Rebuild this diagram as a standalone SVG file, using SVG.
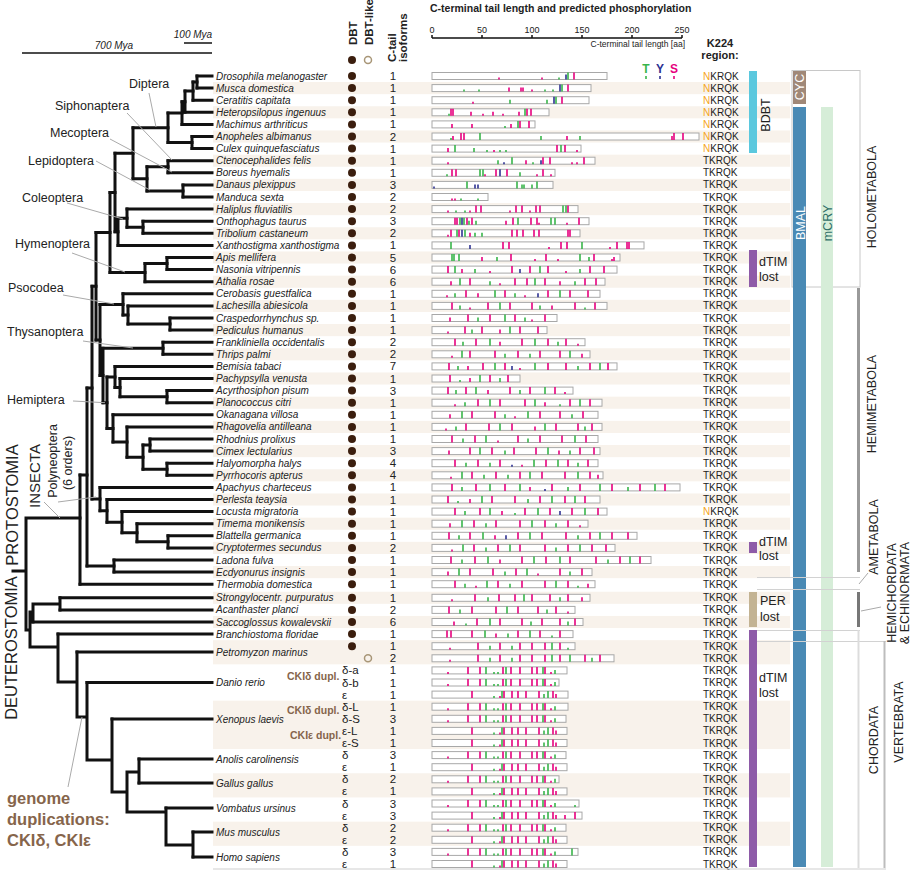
<svg xmlns="http://www.w3.org/2000/svg" width="913" height="872" viewBox="0 0 913 872">
<style>
text{font-family:'Liberation Sans',Arial,sans-serif;fill:#222}
.sp{font-size:10px;font-style:italic}
.n{font-size:11.5px;text-anchor:middle}
.k{font-size:10px}
.o{fill:#f5a623}
.bx{fill:#fff;stroke:#a8a8a8;stroke-width:1}
.s{stroke:#e6007e;stroke-width:1.6;fill:none}
.t{stroke:#39b54a;stroke-width:1.6;fill:none}
.y{stroke:#2e3192;stroke-width:1.6;fill:none}
.d{fill:#3b1e0e}
.st{fill:#f8f2eb}
.lb{font-size:12.5px}
.pt{stroke:#aaa;stroke-width:1;fill:none}
.tr{stroke:#111;stroke-width:3;fill:none;stroke-linecap:square}
.hd{font-size:11.5px;font-weight:bold}
.iso{font-size:11.5px}
.br{fill:#86654b;font-weight:bold}
.rl{font-size:12.5px}
.gl{stroke:#d2d2d2;stroke-width:1;fill:none}
</style>
<defs>
<g id="vA"><path class="s" d="M448 3.5v-2M468 3.5v-7M480 3.5v-7M503 3.5v-7M511 3.5v-7M520 3.5v-7M532 3.5v-7M537 3.5v-7M545 3.5v-7M551 3.5v-2"/><path class="t" d="M486 3.5v-7M494 3.5v-2M498 3.5v-2M506 3.5v-7M543 3.5v-7M555 3.5v-4"/></g>
<g id="vB"><path class="s" d="M472 3.5v-7M500 3.5v-2M504 3.5v-7M512 3.5v-7M518 3.5v-7M526 3.5v-7M539 3.5v-7M553 3.5v-7M556 3.5v-4"/><path class="t" d="M494 3.5v-2M502 3.5v-7M544 3.5v-4M548 3.5v-7"/></g>
</defs>
<rect width="913" height="872" fill="#fff"/>
<g id="stripes">
<rect class="st" x="213" y="82.05" width="577" height="12.1"/><rect class="st" x="213" y="106.25" width="577" height="12.1"/><rect class="st" x="213" y="130.45" width="577" height="12.1"/><rect class="st" x="213" y="154.65" width="577" height="12.1"/><rect class="st" x="213" y="178.85" width="577" height="12.1"/><rect class="st" x="213" y="203.05" width="577" height="12.1"/><rect class="st" x="213" y="227.25" width="577" height="12.1"/><rect class="st" x="213" y="251.45" width="577" height="12.1"/><rect class="st" x="213" y="275.65" width="577" height="12.1"/><rect class="st" x="213" y="299.85" width="577" height="12.1"/><rect class="st" x="213" y="324.05" width="577" height="12.1"/><rect class="st" x="213" y="348.25" width="577" height="12.1"/><rect class="st" x="213" y="372.45" width="577" height="12.1"/><rect class="st" x="213" y="396.65" width="577" height="12.1"/><rect class="st" x="213" y="420.85" width="577" height="12.1"/><rect class="st" x="213" y="445.05" width="577" height="12.1"/><rect class="st" x="213" y="469.25" width="577" height="12.1"/><rect class="st" x="213" y="493.45" width="577" height="12.1"/><rect class="st" x="213" y="517.65" width="577" height="12.1"/><rect class="st" x="213" y="541.85" width="577" height="12.1"/><rect class="st" x="213" y="566.05" width="577" height="12.1"/><rect class="st" x="213" y="591.75" width="577" height="12.1"/><rect class="st" x="213" y="615.95" width="577" height="12.1"/><rect class="st" x="213" y="640.15" width="577" height="24.2"/><rect class="st" x="213" y="700.65" width="577" height="48.4"/><rect class="st" x="213" y="773.25" width="577" height="24.2"/><rect class="st" x="213" y="821.65" width="577" height="24.2"/>
</g>
<g id="header">
<line x1="184" y1="43" x2="212" y2="43" stroke="#111" stroke-width="1.5"/>
<line x1="22" y1="53" x2="212" y2="53" stroke="#111" stroke-width="1.5"/>
<text x="193" y="38" font-size="10" font-style="italic" text-anchor="middle">100 Mya</text>
<text x="114" y="49" font-size="10" font-style="italic" text-anchor="middle">700 Mya</text>
<text class="hd" transform="translate(357,45) rotate(-90)">DBT</text>
<text class="hd" transform="translate(373,45) rotate(-90)">DBT-like</text>
<text class="hd" transform="translate(396,62) rotate(-90)">C-tail</text>
<text class="hd" transform="translate(407,62) rotate(-90)">isoforms</text>
<circle class="d" cx="352" cy="60" r="4"/>
<circle cx="368" cy="60" r="3.5" fill="none" stroke="#a89677" stroke-width="1.5"/>
<text x="430" y="12" font-size="10.5" font-weight="bold">C-terminal tail length and predicted phosphorylation</text>
<path d="M432 38H682M432 38v-3M482 38v-3M532 38v-3M582 38v-3M632 38v-3M682 38v-3" stroke="#111" stroke-width="1.5" fill="none"/>
<g font-size="9" text-anchor="middle"><text x="432" y="33">0</text><text x="482" y="33">50</text><text x="532" y="33">100</text><text x="582" y="33">150</text><text x="632" y="33">200</text><text x="682" y="33">250</text></g>
<text x="685" y="47" font-size="8.5" text-anchor="end">C-terminal tail length [aa]</text>
<text x="720" y="47" font-size="11" font-weight="bold" text-anchor="middle">K224</text>
<text x="720" y="59" font-size="11" font-weight="bold" text-anchor="middle">region:</text>
<g font-size="12" font-weight="bold" text-anchor="middle"><text x="646" y="73" style="fill:#39b54a">T</text><text x="660" y="73" style="fill:#2e3192">Y</text><text x="674" y="73" style="fill:#e6007e">S</text></g>
<path class="t" d="M646 79v-3"/><path class="y" d="M660 79v-3"/><path class="s" d="M674 79v-3"/>
</g>
<g id="connectors">
<path class="tr" d="M197 76H212M197 88.1H212M193 100.2H212M185 112.3H212M182 124.4H212M192 136.5H212M192 148.6H212M168 160.7H212M168 172.8H212M183 184.9H212M183 197H212M127 209.1H212M143 221.2H212M143 233.3H212M118 245.4H212M167 257.5H212M167 269.6H212M145 281.7H212M123 293.8H212M128 305.9H212M170 318H212M170 330.1H212M163 342.2H212M163 354.3H212M115 366.4H212M120 378.5H212M167 390.6H212M167 402.7H212M113 414.8H212M127 426.9H212M150 439H212M150 451.1H212M167 463.2H212M167 475.3H212M100 487.4H212M107 499.5H212M122 511.6H212M137 523.7H212M168 535.8H212M168 547.9H212M114 560H212M114 572.1H212M80 584.2H212M60 597.8H212M60 609.9H212M33 622H212M58 634.1H212M77 652H212M87 682.5H212M112 719H212M139 759H212M139 783H212M166 808H212M193 832H212M193 857H212"/>
<path class="tr" d="M197 76V88.1M193 82.05V100.2M185 91.1V112.3M182 101.7V124.4M192 136.5V148.6M168 113V142.55M168 160.7V172.8M183 184.9V197M147 166.75V190.95M133 127.8V178.85M143 221.2V233.3M127 209.1V227.25M118 218.2V245.4M115 153.3V231.8M167 257.5V269.6M145 263.55V281.7M110 192.55V272.6M170 318V330.1M128 305.9V324.05M123 293.8V315M163 342.2V354.3M167 390.6V402.7M120 378.5V396.65M115 366.4V387.6M150 439V451.1M167 463.2V475.3M143 445.05V469.25M127 426.9V457.15M113 414.8V442M107 377V428.4M103 348.25V402.7M100 304.4V375.5M96 232.6V340M168 535.8V547.9M137 523.7V541.85M122 511.6V532.8M107 499.5V522.2M100 487.4V510.85M92 286.3V499.1M114 560V572.1M87 388V566.05M80 475V584.2"/>
<path class="tr" d="M193 82.05H197M185 91.1H193M182 101.7H185M168 113H182M168 142.55H192M147 166.75H168M147 190.95H183M133 127.8H168M133 178.85H147M127 227.25H143M118 218.2H127M115 153.3H133M115 231.8H118M145 263.55H167M110 192.55H115M110 272.6H145M128 324.05H170M123 315H128M115 387.6H120M120 396.65H167M143 445.05H150M143 469.25H167M127 457.15H143M113 442H127M107 377H115M107 428.4H113M103 348.25H163M103 402.7H107M100 304.4H123M100 375.5H103M96 232.6H110M96 340H100M137 541.85H168M122 532.8H137M107 522.2H122M100 510.85H107M92 286.3H96M92 499.1H100M87 388H92M87 566.05H114M80 475H87"/>
<path class="tr" d="M60 597.8V609.9M33 604V622M33 604H60M193 832V857M166 808V845M166 845H193M139 759V783M127 772V812M127 772H139M127 812H166M112 719V792M112 792H127M87 682.5V760M87 760H112M77 652V717M77 717H87M58 634.1V682M58 682H77M30 612V647M30 612H33M30 647H58M26 518V630M26 518H80M26 630H30M13 571H26"/>
<path class="pt" d="M149 93L156 127M127 113L172 160M110 139L172 172M96 161L150 190M67 203L123 219M72 253L125 272M63 295L114 304M83 341L133 348M73 401L105 402.7M44 502L60 518M58 502L96 497M68 787L82 717"/>
</g>
<g id="clade-labels">
<text class="lb" x="129" y="88">Diptera</text>
<text class="lb" x="55" y="109.5">Siphonaptera</text>
<text class="lb" x="50" y="136.5">Mecoptera</text>
<text class="lb" x="28" y="164.5">Lepidoptera</text>
<text class="lb" x="22" y="201.5">Coleoptera</text>
<text class="lb" x="15" y="248">Hymenoptera</text>
<text class="lb" x="8" y="292">Psocodea</text>
<text class="lb" x="7" y="336">Thysanoptera</text>
<text class="lb" x="7" y="404">Hemiptera</text>
<text font-size="16.5" transform="translate(18,505) rotate(-90)" text-anchor="middle">PROTOSTOMIA</text>
<text font-size="16.5" transform="translate(17,648) rotate(-90)" text-anchor="middle">DEUTEROSTOMIA</text>
<text font-size="15" transform="translate(40,476) rotate(-90)" text-anchor="middle">INSECTA</text>
<text font-size="12.5" transform="translate(57,461) rotate(-90)" text-anchor="middle">Polyneoptera</text>
<text font-size="12.5" transform="translate(72,463) rotate(-90)" text-anchor="middle">(6 orders)</text>
<g class="br" font-size="16.5"><text class="br" x="7" y="804">genome</text><text class="br" x="7" y="825">duplications:</text><text class="br" x="7" y="846">CKIδ, CKIε</text></g>
</g>
<g id="rows">
<g id="r-Drosophila" transform="translate(0,76)"><text class="sp" x="216" y="3.5">Drosophila melanogaster</text><circle class="d" cx="352" cy="0" r="4"/><text class="n" x="393" y="4">1</text><rect class="bx" x="432" y="-3.5" width="175" height="7"/><path class="s" d="M499 3.5v-2M542 3.5v-2M574 3.5v-7"/><path class="t" d="M559 3.5v-2M568 3.5v-7"/><path class="y" d="M566 3.5v-5"/><text class="k" x="703" y="3.5"><tspan class="o">N</tspan>KRQK</text></g>
<g id="r-Musca" transform="translate(0,88.1)"><text class="sp" x="216" y="3.5">Musca domestica</text><circle class="d" cx="352" cy="0" r="4"/><text class="n" x="393" y="4">1</text><rect class="bx" x="432" y="-3.5" width="159" height="7"/><path class="s" d="M509 3.5v-4M521 3.5v-4M523 3.5v-4M532 3.5v-2M568 3.5v-7"/><path class="t" d="M464 3.5v-2M479 3.5v-2M545 3.5v-2M553 3.5v-2M562 3.5v-7"/><path class="y" d="M560 3.5v-7"/><text class="k" x="703" y="3.5"><tspan class="o">N</tspan>KRQK</text></g>
<g id="r-Ceratitis" transform="translate(0,100.2)"><text class="sp" x="216" y="3.5">Ceratitis capitata</text><circle class="d" cx="352" cy="0" r="4"/><text class="n" x="393" y="4">1</text><rect class="bx" x="432" y="-3.5" width="157" height="7"/><path class="s" d="M473 3.5v-2M562 3.5v-7"/><path class="t" d="M510 3.5v-4M547 3.5v-4M556 3.5v-7"/><path class="y" d="M554 3.5v-7"/><text class="k" x="703" y="3.5"><tspan class="o">N</tspan>KRQK</text></g>
<g id="r-Heteropsilopus" transform="translate(0,112.3)"><text class="sp" x="216" y="3.5">Heteropsilopus ingenuus</text><circle class="d" cx="352" cy="0" r="4"/><text class="n" x="393" y="4">1</text><rect class="bx" x="432" y="-3.5" width="117" height="7"/><path class="s" d="M451 3.5v-7M453 3.5v-7M471 3.5v-4M483 3.5v-2M493 3.5v-4M503 3.5v-2M519 3.5v-4M527 3.5v-7M531 3.5v-7"/><path class="t" d="M449 3.5v-2M525 3.5v-7"/><text class="k" x="703" y="3.5"><tspan class="o">N</tspan>KRQK</text></g>
<g id="r-Machimus" transform="translate(0,124.4)"><text class="sp" x="216" y="3.5">Machimus arthriticus</text><circle class="d" cx="352" cy="0" r="4"/><text class="n" x="393" y="4">1</text><rect class="bx" x="432" y="-3.5" width="103" height="7"/><path class="s" d="M452 3.5v-4M472 3.5v-4M511 3.5v-4M520 3.5v-7M529 3.5v-7"/><path class="t" d="M505 3.5v-2M518 3.5v-7"/><text class="k" x="703" y="3.5"><tspan class="o">N</tspan>KRQK</text></g>
<g id="r-Anopheles" transform="translate(0,136.5)"><text class="sp" x="216" y="3.5">Anopheles albimanus</text><circle class="d" cx="352" cy="0" r="4"/><text class="n" x="393" y="4">2</text><rect class="bx" x="432" y="-3.5" width="267" height="7"/><path class="s" d="M453 3.5v-4M461 3.5v-7M464 3.5v-7M567 3.5v-4M672 3.5v-4M674 3.5v-7M683 3.5v-7"/><path class="t" d="M451 3.5v-2M480 3.5v-7M541 3.5v-4M580 3.5v-4"/><text class="k" x="703" y="3.5"><tspan class="o">N</tspan>KRQK</text></g>
<g id="r-Culex" transform="translate(0,148.6)"><text class="sp" x="216" y="3.5">Culex quinquefasciatus</text><circle class="d" cx="352" cy="0" r="4"/><text class="n" x="393" y="4">1</text><rect class="bx" x="432" y="-3.5" width="149" height="7"/><path class="s" d="M448 3.5v-4M494 3.5v-2M557 3.5v-7M565 3.5v-7M577 3.5v-2"/><path class="t" d="M455 3.5v-7M474 3.5v-4M487 3.5v-2M500 3.5v-2M506 3.5v-2M561 3.5v-7"/><text class="k" x="703" y="3.5"><tspan class="o">N</tspan>KRQK</text></g>
<g id="r-Ctenocephalides" transform="translate(0,160.7)"><text class="sp" x="216" y="3.5">Ctenocephalides felis</text><circle class="d" cx="352" cy="0" r="4"/><text class="n" x="393" y="4">1</text><rect class="bx" x="432" y="-3.5" width="163" height="7"/><path class="s" d="M448 3.5v-2M526 3.5v-4M543 3.5v-7M550 3.5v-7M572 3.5v-2M577 3.5v-2M584 3.5v-7"/><path class="t" d="M498 3.5v-4M512 3.5v-7M533 3.5v-2"/><path class="y" d="M504 3.5v-2M541 3.5v-4"/><text class="k" x="703" y="3.5">TKRQK</text></g>
<g id="r-Boreus" transform="translate(0,172.8)"><text class="sp" x="216" y="3.5">Boreus hyemalis</text><circle class="d" cx="352" cy="0" r="4"/><text class="n" x="393" y="4">1</text><rect class="bx" x="432" y="-3.5" width="123" height="7"/><path class="s" d="M452 3.5v-7M456 3.5v-7M485 3.5v-2M496 3.5v-7M507 3.5v-7M537 3.5v-2M543 3.5v-7M551 3.5v-2"/><path class="t" d="M447 3.5v-2M480 3.5v-7M483 3.5v-7M520 3.5v-4"/><path class="y" d="M500 3.5v-7"/><text class="k" x="703" y="3.5">TKRQK</text></g>
<g id="r-Danaus" transform="translate(0,184.9)"><text class="sp" x="216" y="3.5">Danaus plexippus</text><circle class="d" cx="352" cy="0" r="4"/><text class="n" x="393" y="4">3</text><rect class="bx" x="432" y="-3.5" width="121" height="7"/><path class="t" d="M467 3.5v-7M517 3.5v-7M522 3.5v-4M524 3.5v-4M532 3.5v-4M537 3.5v-7"/><path class="y" d="M434 3.5v-2M475 3.5v-4M478 3.5v-4"/><text class="k" x="703" y="3.5">TKRQK</text></g>
<g id="r-Manduca" transform="translate(0,197)"><text class="sp" x="216" y="3.5">Manduca sexta</text><circle class="d" cx="352" cy="0" r="4"/><text class="n" x="393" y="4">2</text><rect class="bx" x="432" y="-3.5" width="56" height="7"/><path class="s" d="M452 3.5v-2M455 3.5v-2"/><path class="t" d="M461 3.5v-2M478 3.5v-2"/><text class="k" x="703" y="3.5">TKRQK</text></g>
<g id="r-Haliplus" transform="translate(0,209.1)"><text class="sp" x="216" y="3.5">Haliplus fluviatilis</text><circle class="d" cx="352" cy="0" r="4"/><text class="n" x="393" y="4">2</text><rect class="bx" x="432" y="-3.5" width="146" height="7"/><path class="s" d="M448 3.5v-2M470 3.5v-2M476 3.5v-7M481 3.5v-7M510 3.5v-2M516 3.5v-7M522 3.5v-7M530 3.5v-2M536 3.5v-7M540 3.5v-7M568 3.5v-7"/><path class="t" d="M456 3.5v-2M465 3.5v-2M563 3.5v-7M566 3.5v-7"/><text class="k" x="703" y="3.5">TKRQK</text></g>
<g id="r-Onthophagus" transform="translate(0,221.2)"><text class="sp" x="216" y="3.5">Onthophagus taurus</text><circle class="d" cx="352" cy="0" r="4"/><text class="n" x="393" y="4">3</text><rect class="bx" x="432" y="-3.5" width="157" height="7"/><path class="s" d="M455 3.5v-7M457 3.5v-7M467 3.5v-7M472 3.5v-7M506 3.5v-4M513 3.5v-7M531 3.5v-7M537 3.5v-7M539 3.5v-2M567 3.5v-2M579 3.5v-7"/><path class="t" d="M460 3.5v-7M464 3.5v-7M469 3.5v-4M476 3.5v-4M518 3.5v-7M551 3.5v-7M555 3.5v-7"/><path class="y" d="M462 3.5v-7"/><text class="k" x="703" y="3.5">TKRQK</text></g>
<g id="r-Tribolium" transform="translate(0,233.3)"><text class="sp" x="216" y="3.5">Tribolium castaneum</text><circle class="d" cx="352" cy="0" r="4"/><text class="n" x="393" y="4">2</text><rect class="bx" x="432" y="-3.5" width="148" height="7"/><path class="s" d="M448 3.5v-2M451 3.5v-7M459 3.5v-7M470 3.5v-4M512 3.5v-7M517 3.5v-7M523 3.5v-7M534 3.5v-7M539 3.5v-7M568 3.5v-7M570 3.5v-7"/><path class="t" d="M457 3.5v-7M465 3.5v-7M475 3.5v-4M482 3.5v-4"/><path class="y" d="M462 3.5v-7"/><text class="k" x="703" y="3.5">TKRQK</text></g>
<g id="r-Xanthostigma" transform="translate(0,245.4)"><text class="sp" x="216" y="3.5">Xanthostigma xanthostigma</text><circle class="d" cx="352" cy="0" r="4"/><text class="n" x="393" y="4">1</text><rect class="bx" x="432" y="-3.5" width="212" height="7"/><path class="s" d="M503 3.5v-7M509 3.5v-7M549 3.5v-2M561 3.5v-7M567 3.5v-7M610 3.5v-2M617 3.5v-7M627 3.5v-7M629 3.5v-7"/><path class="t" d="M451 3.5v-7M582 3.5v-7"/><path class="y" d="M470 3.5v-4"/><text class="k" x="703" y="3.5">TKRQK</text></g>
<g id="r-Apis" transform="translate(0,257.5)"><text class="sp" x="216" y="3.5">Apis mellifera</text><circle class="d" cx="352" cy="0" r="4"/><text class="n" x="393" y="4">5</text><rect class="bx" x="432" y="-3.5" width="188" height="7"/><path class="s" d="M482 3.5v-4M511 3.5v-7M535 3.5v-2M546 3.5v-7M558 3.5v-2M594 3.5v-7M612 3.5v-2M614 3.5v-4"/><path class="t" d="M452 3.5v-7M454 3.5v-7M459 3.5v-7M497 3.5v-4M580 3.5v-7M589 3.5v-4"/><text class="k" x="703" y="3.5">TKRQK</text></g>
<g id="r-Nasonia" transform="translate(0,269.6)"><text class="sp" x="216" y="3.5">Nasonia vitripennis</text><circle class="d" cx="352" cy="0" r="4"/><text class="n" x="393" y="4">6</text><rect class="bx" x="432" y="-3.5" width="185" height="7"/><path class="s" d="M448 3.5v-7M462 3.5v-4M490 3.5v-2M512 3.5v-7M530 3.5v-7M548 3.5v-7M566 3.5v-2M590 3.5v-7M604 3.5v-7"/><path class="t" d="M455 3.5v-7M475 3.5v-4M540 3.5v-7M580 3.5v-4"/><path class="y" d="M520 3.5v-4"/><text class="k" x="703" y="3.5">TKRQK</text></g>
<g id="r-Athalia" transform="translate(0,281.7)"><text class="sp" x="216" y="3.5">Athalia rosae</text><circle class="d" cx="352" cy="0" r="4"/><text class="n" x="393" y="4">6</text><rect class="bx" x="432" y="-3.5" width="173" height="7"/><path class="s" d="M451 3.5v-4M470 3.5v-7M500 3.5v-2M515 3.5v-7M527 3.5v-7M545 3.5v-7M560 3.5v-4M585 3.5v-7M596 3.5v-7"/><path class="t" d="M460 3.5v-7M490 3.5v-4M535 3.5v-7M575 3.5v-4"/><text class="k" x="703" y="3.5">TKRQK</text></g>
<g id="r-Cerobasis" transform="translate(0,293.8)"><text class="sp" x="216" y="3.5">Cerobasis guestfalica</text><circle class="d" cx="352" cy="0" r="4"/><text class="n" x="393" y="4">1</text><rect class="bx" x="432" y="-3.5" width="168" height="7"/><path class="s" d="M447 3.5v-2M466 3.5v-7M478 3.5v-4M505 3.5v-7M525 3.5v-2M548 3.5v-7M570 3.5v-7M588 3.5v-7"/><path class="t" d="M455 3.5v-4M495 3.5v-7M515 3.5v-4M560 3.5v-7"/><path class="y" d="M538 3.5v-4"/><text class="k" x="703" y="3.5">TKRQK</text></g>
<g id="r-Lachesilla" transform="translate(0,305.9)"><text class="sp" x="216" y="3.5">Lachesilla abiesicola</text><circle class="d" cx="352" cy="0" r="4"/><text class="n" x="393" y="4">1</text><rect class="bx" x="432" y="-3.5" width="175" height="7"/><path class="s" d="M452 3.5v-7M470 3.5v-2M488 3.5v-7M510 3.5v-7M532 3.5v-7M552 3.5v-4M575 3.5v-7M595 3.5v-7"/><path class="t" d="M460 3.5v-4M500 3.5v-7M540 3.5v-4M585 3.5v-2"/><text class="k" x="703" y="3.5">TKRQK</text></g>
<g id="r-Craspedorrhynchus" transform="translate(0,318)"><text class="sp" x="216" y="3.5">Craspedorrhynchus sp.</text><circle class="d" cx="352" cy="0" r="4"/><text class="n" x="393" y="4">1</text><rect class="bx" x="432" y="-3.5" width="125" height="7"/><path class="s" d="M450 3.5v-4M468 3.5v-7M490 3.5v-7M515 3.5v-7M532 3.5v-2M545 3.5v-7"/><path class="t" d="M478 3.5v-4M505 3.5v-7M525 3.5v-4"/><text class="k" x="703" y="3.5">TKRQK</text></g>
<g id="r-Pediculus" transform="translate(0,330.1)"><text class="sp" x="216" y="3.5">Pediculus humanus</text><circle class="d" cx="352" cy="0" r="4"/><text class="n" x="393" y="4">1</text><rect class="bx" x="432" y="-3.5" width="115" height="7"/><path class="s" d="M448 3.5v-2M465 3.5v-7M482 3.5v-7M500 3.5v-4M520 3.5v-7M538 3.5v-7"/><path class="t" d="M472 3.5v-4M510 3.5v-7"/><text class="k" x="703" y="3.5">TKRQK</text></g>
<g id="r-Frankliniella" transform="translate(0,342.2)"><text class="sp" x="216" y="3.5">Frankliniella occidentalis</text><circle class="d" cx="352" cy="0" r="4"/><text class="n" x="393" y="4">2</text><rect class="bx" x="432" y="-3.5" width="153" height="7"/><path class="s" d="M455 3.5v-7M476 3.5v-7M500 3.5v-4M522 3.5v-7M548 3.5v-7M566 3.5v-7M578 3.5v-2"/><path class="t" d="M463 3.5v-4M490 3.5v-7M535 3.5v-7M558 3.5v-4"/><text class="k" x="703" y="3.5">TKRQK</text></g>
<g id="r-Thrips" transform="translate(0,354.3)"><text class="sp" x="216" y="3.5">Thrips palmi</text><circle class="d" cx="352" cy="0" r="4"/><text class="n" x="393" y="4">2</text><rect class="bx" x="432" y="-3.5" width="158" height="7"/><path class="s" d="M452 3.5v-2M470 3.5v-7M495 3.5v-7M518 3.5v-7M540 3.5v-7M560 3.5v-7M582 3.5v-4"/><path class="t" d="M462 3.5v-7M505 3.5v-4M530 3.5v-4M570 3.5v-7"/><text class="k" x="703" y="3.5">TKRQK</text></g>
<g id="r-Bemisia" transform="translate(0,366.4)"><text class="sp" x="216" y="3.5">Bemisia tabaci</text><circle class="d" cx="352" cy="0" r="4"/><text class="n" x="393" y="4">7</text><rect class="bx" x="432" y="-3.5" width="185" height="7"/><path class="s" d="M449 3.5v-7M468 3.5v-4M483 3.5v-7M505 3.5v-7M520 3.5v-2M548 3.5v-7M566 3.5v-7M590 3.5v-7M608 3.5v-7"/><path class="t" d="M458 3.5v-4M495 3.5v-7M535 3.5v-7M578 3.5v-4M600 3.5v-7"/><path class="y" d="M512 3.5v-4"/><text class="k" x="703" y="3.5">TKRQK</text></g>
<g id="r-Pachypsylla" transform="translate(0,378.5)"><text class="sp" x="216" y="3.5">Pachypsylla venusta</text><circle class="d" cx="352" cy="0" r="4"/><text class="n" x="393" y="4">1</text><rect class="bx" x="432" y="-3.5" width="88" height="7"/><path class="s" d="M450 3.5v-7M470 3.5v-4M490 3.5v-7M508 3.5v-7"/><path class="t" d="M460 3.5v-2M480 3.5v-7M500 3.5v-4"/><text class="k" x="703" y="3.5">TKRQK</text></g>
<g id="r-Acyrthosiphon" transform="translate(0,390.6)"><text class="sp" x="216" y="3.5">Acyrthosiphon pisum</text><circle class="d" cx="352" cy="0" r="4"/><text class="n" x="393" y="4">3</text><rect class="bx" x="432" y="-3.5" width="141" height="7"/><path class="s" d="M448 3.5v-7M466 3.5v-7M488 3.5v-4M510 3.5v-7M530 3.5v-7M555 3.5v-7M565 3.5v-2"/><path class="t" d="M456 3.5v-4M476 3.5v-7M520 3.5v-4M545 3.5v-7"/><text class="k" x="703" y="3.5">TKRQK</text></g>
<g id="r-Planococcus" transform="translate(0,402.7)"><text class="sp" x="216" y="3.5">Planococcus citri</text><circle class="d" cx="352" cy="0" r="4"/><text class="n" x="393" y="4">1</text><rect class="bx" x="432" y="-3.5" width="170" height="7"/><path class="s" d="M455 3.5v-2M478 3.5v-7M500 3.5v-7M525 3.5v-7M545 3.5v-4M570 3.5v-7M590 3.5v-7"/><path class="t" d="M465 3.5v-4M490 3.5v-7M535 3.5v-7M560 3.5v-2M580 3.5v-7"/><text class="k" x="703" y="3.5">TKRQK</text></g>
<g id="r-Okanagana" transform="translate(0,414.8)"><text class="sp" x="216" y="3.5">Okanagana villosa</text><circle class="d" cx="352" cy="0" r="4"/><text class="n" x="393" y="4">1</text><rect class="bx" x="432" y="-3.5" width="166" height="7"/><path class="s" d="M450 3.5v-4M472 3.5v-7M495 3.5v-7M515 3.5v-2M540 3.5v-7M560 3.5v-7M583 3.5v-7"/><path class="t" d="M462 3.5v-7M505 3.5v-4M528 3.5v-7M572 3.5v-4"/><text class="k" x="703" y="3.5">TKRQK</text></g>
<g id="r-Rhagovelia" transform="translate(0,426.9)"><text class="sp" x="216" y="3.5">Rhagovelia antilleana</text><circle class="d" cx="352" cy="0" r="4"/><text class="n" x="393" y="4">1</text><rect class="bx" x="432" y="-3.5" width="170" height="7"/><path class="s" d="M446 3.5v-2M466 3.5v-7M489 3.5v-7M512 3.5v-7M535 3.5v-4M556 3.5v-7M578 3.5v-7M592 3.5v-7"/><path class="t" d="M456 3.5v-4M500 3.5v-7M545 3.5v-7M585 3.5v-4"/><text class="k" x="703" y="3.5">TKRQK</text></g>
<g id="r-Rhodnius" transform="translate(0,439)"><text class="sp" x="216" y="3.5">Rhodnius prolixus</text><circle class="d" cx="352" cy="0" r="4"/><text class="n" x="393" y="4">1</text><rect class="bx" x="432" y="-3.5" width="166" height="7"/><path class="s" d="M452 3.5v-7M475 3.5v-7M498 3.5v-2M518 3.5v-7M540 3.5v-7M562 3.5v-7M586 3.5v-7"/><path class="t" d="M463 3.5v-4M486 3.5v-7M528 3.5v-4M575 3.5v-7"/><text class="k" x="703" y="3.5">TKRQK</text></g>
<g id="r-Cimex" transform="translate(0,451.1)"><text class="sp" x="216" y="3.5">Cimex lectularius</text><circle class="d" cx="352" cy="0" r="4"/><text class="n" x="393" y="4">3</text><rect class="bx" x="432" y="-3.5" width="168" height="7"/><path class="s" d="M449 3.5v-4M470 3.5v-7M492 3.5v-7M514 3.5v-7M536 3.5v-7M559 3.5v-4M580 3.5v-7M594 3.5v-7"/><path class="t" d="M480 3.5v-7M505 3.5v-4M548 3.5v-7M570 3.5v-4"/><text class="k" x="703" y="3.5">TKRQK</text></g>
<g id="r-Halyomorpha" transform="translate(0,463.2)"><text class="sp" x="216" y="3.5">Halyomorpha halys</text><circle class="d" cx="352" cy="0" r="4"/><text class="n" x="393" y="4">4</text><rect class="bx" x="432" y="-3.5" width="166" height="7"/><path class="s" d="M455 3.5v-7M478 3.5v-7M500 3.5v-7M522 3.5v-2M546 3.5v-7M568 3.5v-7M588 3.5v-7"/><path class="t" d="M466 3.5v-4M490 3.5v-4M534 3.5v-7M558 3.5v-7M578 3.5v-4"/><path class="y" d="M512 3.5v-2"/><text class="k" x="703" y="3.5">TKRQK</text></g>
<g id="r-Pyrrhocoris" transform="translate(0,475.3)"><text class="sp" x="216" y="3.5">Pyrrhocoris apterus</text><circle class="d" cx="352" cy="0" r="4"/><text class="n" x="393" y="4">4</text><rect class="bx" x="432" y="-3.5" width="171" height="7"/><path class="s" d="M451 3.5v-2M472 3.5v-7M496 3.5v-7M520 3.5v-7M542 3.5v-7M565 3.5v-7M590 3.5v-7M598 3.5v-4"/><path class="t" d="M462 3.5v-7M484 3.5v-4M508 3.5v-4M530 3.5v-7M578 3.5v-7"/><text class="k" x="703" y="3.5">TKRQK</text></g>
<g id="r-Apachyus" transform="translate(0,487.4)"><text class="sp" x="216" y="3.5">Apachyus charteceus</text><circle class="d" cx="352" cy="0" r="4"/><text class="n" x="393" y="4">1</text><rect class="bx" x="432" y="-3.5" width="248" height="7"/><path class="s" d="M452 3.5v-7M476 3.5v-7M505 3.5v-7M530 3.5v-4M552 3.5v-7M580 3.5v-7M612 3.5v-7M640 3.5v-7M665 3.5v-7"/><path class="t" d="M462 3.5v-4M490 3.5v-7M520 3.5v-7M568 3.5v-4M600 3.5v-7M628 3.5v-4M655 3.5v-7"/><path class="y" d="M545 3.5v-2"/><text class="k" x="703" y="3.5">TKRQK</text></g>
<g id="r-Perlesta" transform="translate(0,499.5)"><text class="sp" x="216" y="3.5">Perlesta teaysia</text><circle class="d" cx="352" cy="0" r="4"/><text class="n" x="393" y="4">1</text><rect class="bx" x="432" y="-3.5" width="168" height="7"/><path class="s" d="M448 3.5v-7M470 3.5v-4M492 3.5v-7M515 3.5v-7M540 3.5v-7M565 3.5v-7M585 3.5v-7"/><path class="t" d="M458 3.5v-2M482 3.5v-7M528 3.5v-4M552 3.5v-7M575 3.5v-7"/><text class="k" x="703" y="3.5">TKRQK</text></g>
<g id="r-Locusta" transform="translate(0,511.6)"><text class="sp" x="216" y="3.5">Locusta migratoria</text><circle class="d" cx="352" cy="0" r="4"/><text class="n" x="393" y="4">1</text><rect class="bx" x="432" y="-3.5" width="175" height="7"/><path class="s" d="M455 3.5v-7M480 3.5v-7M502 3.5v-4M525 3.5v-7M550 3.5v-7M572 3.5v-7M598 3.5v-7"/><path class="t" d="M465 3.5v-4M490 3.5v-7M515 3.5v-2M538 3.5v-7M585 3.5v-7"/><path class="y" d="M560 3.5v-4"/><text class="k" x="703" y="3.5"><tspan class="o">N</tspan>KRQK</text></g>
<g id="r-Timema" transform="translate(0,523.7)"><text class="sp" x="216" y="3.5">Timema monikensis</text><circle class="d" cx="352" cy="0" r="4"/><text class="n" x="393" y="4">1</text><rect class="bx" x="432" y="-3.5" width="156" height="7"/><path class="s" d="M450 3.5v-4M474 3.5v-7M496 3.5v-7M520 3.5v-7M545 3.5v-7M568 3.5v-7M580 3.5v-2"/><path class="t" d="M462 3.5v-7M486 3.5v-4M532 3.5v-7M556 3.5v-4"/><text class="k" x="703" y="3.5">TKRQK</text></g>
<g id="r-Blattella" transform="translate(0,535.8)"><text class="sp" x="216" y="3.5">Blattella germanica</text><circle class="d" cx="352" cy="0" r="4"/><text class="n" x="393" y="4">1</text><rect class="bx" x="432" y="-3.5" width="205" height="7"/><path class="s" d="M449 3.5v-7M470 3.5v-7M495 3.5v-4M518 3.5v-7M542 3.5v-7M566 3.5v-7M590 3.5v-7M612 3.5v-7M628 3.5v-7"/><path class="t" d="M459 3.5v-4M483 3.5v-7M530 3.5v-7M578 3.5v-4M600 3.5v-7"/><path class="y" d="M506 3.5v-4"/><text class="k" x="703" y="3.5">TKRQK</text></g>
<g id="r-Cryptotermes" transform="translate(0,547.9)"><text class="sp" x="216" y="3.5">Cryptotermes secundus</text><circle class="d" cx="352" cy="0" r="4"/><text class="n" x="393" y="4">2</text><rect class="bx" x="432" y="-3.5" width="183" height="7"/><path class="s" d="M452 3.5v-2M474 3.5v-7M498 3.5v-7M520 3.5v-7M545 3.5v-7M568 3.5v-7M592 3.5v-7M606 3.5v-7"/><path class="t" d="M463 3.5v-7M486 3.5v-4M510 3.5v-7M556 3.5v-4M580 3.5v-7"/><text class="k" x="703" y="3.5">TKRQK</text></g>
<g id="r-Ladona" transform="translate(0,560)"><text class="sp" x="216" y="3.5">Ladona fulva</text><circle class="d" cx="352" cy="0" r="4"/><text class="n" x="393" y="4">1</text><rect class="bx" x="432" y="-3.5" width="219" height="7"/><path class="s" d="M451 3.5v-7M475 3.5v-7M500 3.5v-4M522 3.5v-7M546 3.5v-7M570 3.5v-7M596 3.5v-7M620 3.5v-7M640 3.5v-7"/><path class="t" d="M462 3.5v-4M488 3.5v-7M534 3.5v-7M560 3.5v-7M608 3.5v-4M630 3.5v-7"/><text class="k" x="703" y="3.5">TKRQK</text></g>
<g id="r-Ecdyonurus" transform="translate(0,572.1)"><text class="sp" x="216" y="3.5">Ecdyonurus insignis</text><circle class="d" cx="352" cy="0" r="4"/><text class="n" x="393" y="4">1</text><rect class="bx" x="432" y="-3.5" width="160" height="7"/><path class="s" d="M448 3.5v-4M470 3.5v-7M493 3.5v-7M516 3.5v-7M538 3.5v-2M560 3.5v-7M582 3.5v-7"/><path class="t" d="M459 3.5v-7M505 3.5v-4M527 3.5v-7M570 3.5v-4"/><text class="k" x="703" y="3.5">TKRQK</text></g>
<g id="r-Thermobia" transform="translate(0,584.2)"><text class="sp" x="216" y="3.5">Thermobia domestica</text><circle class="d" cx="352" cy="0" r="4"/><text class="n" x="393" y="4">1</text><rect class="bx" x="432" y="-3.5" width="163" height="7"/><path class="s" d="M455 3.5v-7M476 3.5v-2M498 3.5v-7M522 3.5v-7M545 3.5v-7M568 3.5v-7M588 3.5v-4"/><path class="t" d="M465 3.5v-4M487 3.5v-7M510 3.5v-4M556 3.5v-7M578 3.5v-2"/><text class="k" x="703" y="3.5">TKRQK</text></g>
<g id="r-Strongylocentrotus" transform="translate(0,597.8)"><text class="sp" x="216" y="3.5">Strongylocentr. purpuratus</text><circle class="d" cx="352" cy="0" r="4"/><text class="n" x="393" y="4">1</text><rect class="bx" x="432" y="-3.5" width="158" height="7"/><path class="s" d="M452 3.5v-2M475 3.5v-7M499 3.5v-7M515 3.5v-7M532 3.5v-7M550 3.5v-7M568 3.5v-7M582 3.5v-4"/><path class="t" d="M488 3.5v-4M524 3.5v-7M560 3.5v-4"/><text class="k" x="703" y="3.5">TKRQK</text></g>
<g id="r-Acanthaster" transform="translate(0,609.9)"><text class="sp" x="216" y="3.5">Acanthaster planci</text><circle class="d" cx="352" cy="0" r="4"/><text class="n" x="393" y="4">2</text><rect class="bx" x="432" y="-3.5" width="143" height="7"/><path class="s" d="M449 3.5v-7M472 3.5v-7M496 3.5v-7M518 3.5v-7M538 3.5v-7M556 3.5v-7M568 3.5v-2"/><path class="t" d="M460 3.5v-4M507 3.5v-7M547 3.5v-4"/><text class="k" x="703" y="3.5">TKRQK</text></g>
<g id="r-Saccoglossus" transform="translate(0,622)"><text class="sp" x="216" y="3.5">Saccoglossus kowalevskii</text><circle class="d" cx="352" cy="0" r="4"/><text class="n" x="393" y="4">6</text><rect class="bx" x="432" y="-3.5" width="151" height="7"/><path class="s" d="M454 3.5v-4M477 3.5v-7M500 3.5v-7M522 3.5v-7M542 3.5v-7M560 3.5v-7M575 3.5v-7"/><path class="t" d="M466 3.5v-2M490 3.5v-7M531 3.5v-4M568 3.5v-4"/><text class="k" x="703" y="3.5">TKRQK</text></g>
<g id="r-Branchiostoma" transform="translate(0,634.1)"><text class="sp" x="216" y="3.5">Branchiostoma floridae</text><circle class="d" cx="352" cy="0" r="4"/><text class="n" x="393" y="4">1</text><rect class="bx" x="432" y="-3.5" width="141" height="7"/><path class="s" d="M447 3.5v-7M451 3.5v-7M472 3.5v-7M496 3.5v-4M518 3.5v-7M540 3.5v-7M560 3.5v-7"/><path class="t" d="M485 3.5v-7M508 3.5v-4M530 3.5v-7M552 3.5v-2"/><text class="k" x="703" y="3.5">TKRQK</text></g>
<g id="r-Petromyzon">
<text class="sp" x="216" y="655.5">Petromyzon marinus</text>
<circle class="d" cx="352" cy="646.2" r="4"/><circle cx="368" cy="658.3" r="3.5" fill="none" stroke="#a89677" stroke-width="1.5"/>
<text class="n" x="393" y="650.2">1</text><text class="n" x="393" y="662.3">2</text>
<g transform="translate(0,646.2)"><rect class="bx" x="432" y="-3.5" width="143" height="7"/><path class="s" d="M450 3.5v-2M478 3.5v-7M500 3.5v-7M520 3.5v-7M532 3.5v-7M545 3.5v-7M560 3.5v-7"/><path class="t" d="M490 3.5v-4M512 3.5v-4M552 3.5v-7M568 3.5v-2"/><text class="k" x="703" y="3.5">TKRQK</text></g>
<g transform="translate(0,658.3)"><rect class="bx" x="432" y="-3.5" width="182" height="7"/><path class="s" d="M450 3.5v-2M478 3.5v-7M500 3.5v-7M520 3.5v-7M532 3.5v-7M545 3.5v-7M560 3.5v-7M585 3.5v-7M600 3.5v-7"/><path class="t" d="M490 3.5v-4M512 3.5v-4M552 3.5v-7M570 3.5v-7M592 3.5v-4"/><text class="k" x="703" y="3.5">TKRQK</text></g>
</g>
<g id="r-Danio">
<text class="sp" x="216" y="686">Danio rerio</text>
<text class="br" x="287" y="680" font-size="10.5">CKIδ dupl.</text>
<text class="iso" x="342" y="674.4">δ-a</text><text class="iso" x="342" y="686.5">δ-b</text><text class="iso" x="342" y="698.6">ε</text>
<text class="n" x="393" y="674.4">1</text><text class="n" x="393" y="686.5">1</text><text class="n" x="393" y="698.6">1</text>
<rect class="bx" x="432" y="666.9" width="135" height="7"/><use href="#vA" y="670.4"/>
<rect class="bx" x="432" y="679" width="127" height="7"/><use href="#vA" y="682.5"/>
<rect class="bx" x="432" y="691.1" width="136" height="7"/><use href="#vB" y="694.6"/>
<text class="k" x="703" y="673.9">TKRQK</text><text class="k" x="703" y="686">TKRQK</text><text class="k" x="703" y="698.1">TKRQK</text>
</g>
<g id="r-Xenopus">
<text class="sp" x="216" y="722.5">Xenopus laevis</text>
<text class="br" x="287" y="714" font-size="10.5">CKIδ dupl.</text>
<text class="br" x="290" y="739" font-size="10.5">CKIε dupl.</text>
<text class="iso" x="342" y="710.7">δ-L</text><text class="iso" x="342" y="722.8">δ-S</text><text class="iso" x="342" y="734.9">ε-L</text><text class="iso" x="342" y="747">ε-S</text>
<text class="n" x="393" y="710.7">1</text><text class="n" x="393" y="722.8">3</text><text class="n" x="393" y="734.9">1</text><text class="n" x="393" y="747">1</text>
<rect class="bx" x="432" y="703.2" width="136" height="7"/><use href="#vA" y="706.7"/>
<rect class="bx" x="432" y="715.3" width="134" height="7"/><use href="#vA" y="718.8"/>
<rect class="bx" x="432" y="727.4" width="135" height="7"/><use href="#vB" y="730.9"/>
<rect class="bx" x="432" y="739.5" width="135" height="7"/><use href="#vB" y="743"/>
<text class="k" x="703" y="710.2">TKRQK</text><text class="k" x="703" y="722.3">TKRQK</text><text class="k" x="703" y="734.4">TKRQK</text><text class="k" x="703" y="746.5">TKRQK</text>
</g>
<g id="r-Anolis">
<text class="sp" x="216" y="762.5">Anolis carolinensis</text>
<text class="iso" x="342" y="759.1">δ</text><text class="iso" x="342" y="771.2">ε</text>
<text class="n" x="393" y="759.1">3</text><text class="n" x="393" y="771.2">1</text>
<rect class="bx" x="432" y="751.6" width="134" height="7"/><use href="#vA" y="755.1"/>
<rect class="bx" x="432" y="763.7" width="135" height="7"/><use href="#vB" y="767.2"/>
<text class="k" x="703" y="758.6">TKRQK</text><text class="k" x="703" y="770.7">TKRQK</text>
</g>
<g id="r-Gallus">
<text class="sp" x="216" y="786.5">Gallus gallus</text>
<text class="iso" x="342" y="783.3">δ</text><text class="iso" x="342" y="795.4">ε</text>
<text class="n" x="393" y="783.3">2</text><text class="n" x="393" y="795.4">1</text>
<rect class="bx" x="432" y="775.8" width="127" height="7"/><use href="#vA" y="779.3"/>
<rect class="bx" x="432" y="787.9" width="135" height="7"/><use href="#vB" y="791.4"/>
<text class="k" x="703" y="782.8">TKRQK</text><text class="k" x="703" y="794.9">TKRQK</text>
</g>
<g id="r-Vombatus">
<text class="sp" x="216" y="811.5">Vombatus ursinus</text>
<text class="iso" x="342" y="807.5">δ</text><text class="iso" x="342" y="819.6">ε</text>
<text class="n" x="393" y="807.5">3</text><text class="n" x="393" y="819.6">3</text>
<rect class="bx" x="432" y="800" width="147" height="7"/><use href="#vA" y="803.5"/><path class="t" d="M575 807v-2"/>
<rect class="bx" x="432" y="812.1" width="150" height="7"/><use href="#vB" y="815.6"/><path class="s" d="M565 819.1v-4M575 819.1v-7"/>
<text class="k" x="703" y="807">TKRQK</text><text class="k" x="703" y="819.1">TKRQK</text>
</g>
<g id="r-Mus">
<text class="sp" x="216" y="835.5">Mus musculus</text>
<text class="iso" x="342" y="831.7">δ</text><text class="iso" x="342" y="843.8">ε</text>
<text class="n" x="393" y="831.7">2</text><text class="n" x="393" y="843.8">2</text>
<rect class="bx" x="432" y="824.2" width="134" height="7"/><use href="#vA" y="827.7"/>
<rect class="bx" x="432" y="836.3" width="135" height="7"/><use href="#vB" y="839.8"/>
<text class="k" x="703" y="831.2">TKRQK</text><text class="k" x="703" y="843.3">TKRQK</text>
</g>
<g id="r-Homo">
<text class="sp" x="216" y="860.5">Homo sapiens</text>
<text class="iso" x="342" y="855.9">δ</text><text class="iso" x="342" y="868">ε</text>
<text class="n" x="393" y="855.9">3</text><text class="n" x="393" y="868">1</text>
<rect class="bx" x="432" y="848.4" width="146" height="7"/><use href="#vA" y="851.9"/><path class="t" d="M572 855.4v-7"/>
<rect class="bx" x="432" y="860.5" width="135" height="7"/><use href="#vB" y="864"/>
<text class="k" x="703" y="855.4">TKRQK</text><text class="k" x="703" y="867.5">TKRQK</text>
</g>
</g>
<g id="annotations">
<rect x="792" y="70.5" width="68" height="216.5" fill="none" stroke="#c8c8c8" stroke-width="1"/>
<rect x="749" y="71" width="8" height="82" fill="#5bc8de"/>
<text class="rl" transform="translate(770,115) rotate(-90)" text-anchor="middle">BDBT</text>
<rect x="749" y="250" width="8" height="37" fill="#8e5ba8"/>
<text class="rl" x="759" y="266">dTIM</text><text class="rl" x="759" y="281">lost</text>
<rect x="793" y="71" width="13" height="33" fill="#a08878"/>
<text class="rl" transform="translate(804,87) rotate(-90)" text-anchor="middle" style="fill:#fff">CYC</text>
<rect x="793" y="107" width="13" height="760" fill="#4a8ab5"/>
<text class="rl" transform="translate(804.5,223) rotate(-90)" text-anchor="middle" style="fill:#fff">BMAL</text>
<rect x="821" y="107" width="12" height="760" fill="#d6edd8"/>
<text class="rl" transform="translate(832,223) rotate(-90)" text-anchor="middle" style="fill:#2f6f68">mCRY</text>
<text class="rl" transform="translate(876,197) rotate(-90)" text-anchor="middle">HOLOMETABOLA</text>
<rect x="857" y="288" width="3" height="284" fill="#9a9a9a"/>
<text class="rl" transform="translate(876,404) rotate(-90)" text-anchor="middle">HEMIMETABOLA</text>
<path class="gl" d="M757 577.5H860M757 589.5H860M757 630.5H860M757 641.5H886"/>
<path class="pt" d="M859 584L868 573"/>
<text class="rl" transform="translate(878,537) rotate(-90)" text-anchor="middle">AMETABOLA</text>
<rect x="857" y="592" width="3" height="35" fill="#777"/>
<path class="pt" d="M861 611L881 607"/>
<text class="rl" transform="translate(896,593) rotate(-90)" text-anchor="middle">HEMICHORDATA</text>
<text class="rl" transform="translate(909,593) rotate(-90)" text-anchor="middle">&amp; ECHINORMATA</text>
<rect x="749" y="592" width="8" height="35" fill="#c3b393"/>
<text class="rl" x="760" y="605" font-size="14">PER</text><text class="rl" x="760" y="621" font-size="14">lost</text>
<rect x="749" y="542" width="8" height="11" fill="#8e5ba8"/>
<text class="rl" x="759" y="546" font-size="12">dTIM</text><text class="rl" x="759" y="560" font-size="12">lost</text>
<rect x="749" y="630" width="8" height="237" fill="#8e5ba8"/>
<text class="rl" x="759" y="682" font-size="14">dTIM</text><text class="rl" x="759" y="697" font-size="14">lost</text>
<line x1="858.5" y1="630" x2="858.5" y2="868" stroke="#dcdcdc" stroke-width="2"/>
<text class="rl" transform="translate(878,740) rotate(-90)" text-anchor="middle">CHORDATA</text>
<line x1="884.5" y1="641" x2="884.5" y2="868" stroke="#bdbdbd" stroke-width="2"/>
<text class="rl" transform="translate(903,722) rotate(-90)" text-anchor="middle">VERTEBRATA</text>
<line x1="213" y1="869" x2="886" y2="869" stroke="#cfcfcf" stroke-width="1"/>
</g>
</svg>
